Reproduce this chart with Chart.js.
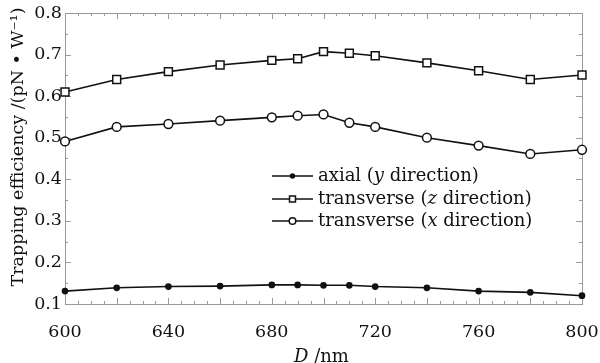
<!DOCTYPE html>
<html><head><meta charset="utf-8">
<script src="https://cdn.jsdelivr.net/npm/chart.js@4/dist/chart.umd.min.js"></script>
<style>html,body{margin:0;padding:0;background:#fff;}</style>
</head><body>
<canvas id="c" width="600" height="363"></canvas>
<script>
// ---- data ----
const diameters = [600, 620, 640, 660, 680, 690, 700, 710, 720, 740, 760, 780, 800];
const axialY = [0.131, 0.139, 0.142, 0.143, 0.146, 0.146, 0.145, 0.145, 0.142, 0.139, 0.131, 0.128, 0.120];
const transverseZ = [0.610, 0.640, 0.659, 0.675, 0.686, 0.690, 0.707, 0.703, 0.697, 0.680, 0.661, 0.640, 0.651];
const transverseX = [0.491, 0.526, 0.533, 0.541, 0.549, 0.553, 0.556, 0.536, 0.526, 0.500, 0.481, 0.461, 0.471];
const xTickLabels = [600, 640, 680, 720, 760, 800];
const yTickLabels = [0.1, 0.2, 0.3, 0.4, 0.5, 0.6, 0.7, 0.8];
// legend text pieces: [regular, italic, regular]
const legendY = ['axial (', 'y', ' direction)'];
const legendZ = ['transverse (', 'z', ' direction)'];
const legendX = ['transverse (', 'x', ' direction)'];
const yTitle = 'Trapping efficiency /(pN \u2022 W\u207B\u00B9)';
const xTitle = ['D', ' /nm'];

const FONT = '"DejaVu Serif", "Liberation Serif", serif';
const pts = arr => diameters.map((d, i) => ({x: d, y: arr[i]}));

const dsBase = {borderColor: '#111', borderWidth: 1.6, pointBorderColor: '#111',
  pointBorderWidth: 1.5, pointBackgroundColor: '#fff', clip: false, tension: 0};
const datasets = [
  Object.assign({}, dsBase, {label: legendY.join(''), data: pts(axialY), pointStyle: 'circle', pointRadius: 2.6, pointBackgroundColor: '#111', legendText: legendY}),
  Object.assign({}, dsBase, {label: legendZ.join(''), data: pts(transverseZ), pointStyle: 'rect', pointRadius: 5.6, legendText: legendZ}),
  Object.assign({}, dsBase, {label: legendX.join(''), data: pts(transverseX), pointStyle: 'circle', pointRadius: 4.4, legendText: legendX})
];

const frameAndTicks = {
  id: 'frameAndTicks',
  beforeDatasetsDraw(chart) {
    const {ctx, chartArea: a, scales: {x, y}} = chart;
    ctx.save();
    ctx.strokeStyle = '#9a9a9a';
    ctx.lineWidth = 1;
    ctx.strokeRect(Math.round(a.left) + 0.5, Math.round(a.top) + 0.5, Math.round(a.right - a.left), Math.round(a.bottom - a.top));
    ctx.beginPath();
    for (let v = x.min; v <= x.max + 1e-9; v += 5) {
      const px = Math.round(x.getPixelForValue(v)) + 0.5;
      const len = (v % 20 === 0) ? 6 : 3;
      ctx.moveTo(px, a.bottom); ctx.lineTo(px, a.bottom - len);
      ctx.moveTo(px, a.top); ctx.lineTo(px, a.top + len);
    }
    for (let k = 0; k <= 14; k++) {
      const v = y.min + k * 0.05;
      const py = Math.round(y.getPixelForValue(v)) + 0.5;
      const len = (k % 2 === 0) ? 6 : 3;
      ctx.moveTo(a.left, py); ctx.lineTo(a.left + len, py);
      ctx.moveTo(a.right, py); ctx.lineTo(a.right - len, py);
    }
    ctx.stroke();
    ctx.restore();
  },
  afterDraw(chart) {
    const {ctx, chartArea: a} = chart;
    ctx.save();
    ctx.fillStyle = '#111';
    ctx.textBaseline = 'alphabetic';
    // x title with italic D
    const fi = 'italic 18px ' + FONT, fr = '18px ' + FONT;
    ctx.font = fi; const w1 = ctx.measureText(xTitle[0]).width;
    ctx.font = fr; const w2 = ctx.measureText(xTitle[1]).width;
    let sx = (a.left + a.right) / 2 - 2 - (w1 + w2) / 2;
    ctx.font = fi; ctx.fillText(xTitle[0], sx, 362);
    ctx.font = fr; ctx.fillText(xTitle[1], sx + w1, 362);
    // y title, rotated
    ctx.save();
    ctx.translate(18, 147);
    ctx.rotate(-Math.PI / 2);
    ctx.font = '17.5px ' + FONT;
    ctx.textAlign = 'center';
    ctx.textBaseline = 'middle';
    ctx.fillText(yTitle, 0, 0);
    ctx.restore();
    // legend
    const rows = [176, 199, 221];
    chart.data.datasets.forEach((ds, i) => {
      const yy = rows[i];
      ctx.strokeStyle = ds.borderColor; ctx.lineWidth = ds.borderWidth;
      ctx.beginPath(); ctx.moveTo(272, yy); ctx.lineTo(313, yy); ctx.stroke();
      ctx.fillStyle = ds.pointBackgroundColor; ctx.strokeStyle = ds.pointBorderColor;
      ctx.lineWidth = ds.pointBorderWidth;
      Chart.helpers.drawPoint(ctx, {pointStyle: ds.pointStyle, radius: ds.pointRadius * 0.75, rotation: 0, borderWidth: ds.pointBorderWidth}, 292.5, yy);
      ctx.fillStyle = '#111';
      ctx.textBaseline = 'middle';
      ctx.textAlign = 'left';
      let tx = 318;
      ds.legendText.forEach((t, j) => {
        ctx.font = (j === 1 ? 'italic ' : '') + '18px ' + FONT;
        ctx.fillText(t, tx, yy);
        tx += ctx.measureText(t).width;
      });
    });
    ctx.restore();
  }
};

new Chart(document.getElementById('c'), {
  type: 'line',
  data: {datasets},
  options: {
    responsive: false,
    animation: false,
    layout: {padding: {top: 13, right: 18, left: 0, bottom: 0}},
    plugins: {legend: {display: false}, tooltip: {enabled: false}},
    scales: {
      x: {
        type: 'linear', min: 600, max: 800,
        afterBuildTicks: s => { s.ticks = xTickLabels.map(v => ({value: v})); },
        afterFit: s => { s.height = 59; s.paddingRight = 0; s.paddingLeft = 0; },
        grid: {display: false, drawTicks: false},
        border: {display: false},
        ticks: {color: '#111', padding: 18, maxRotation: 0, autoSkip: false, font: {family: FONT, size: 17.5}}
      },
      y: {
        type: 'linear', min: 0.1, max: 0.8,
        afterBuildTicks: s => { s.ticks = yTickLabels.map(v => ({value: v})); },
        afterFit: s => { s.width = 65; s.paddingTop = 0; s.paddingBottom = 0; },
        grid: {display: false, drawTicks: false},
        border: {display: false},
        ticks: {color: '#111', padding: 3, autoSkip: false, font: {family: FONT, size: 17.5},
          callback: v => Number(v).toFixed(1)}
      }
    }
  },
  plugins: [frameAndTicks]
});
</script>
</body></html>
